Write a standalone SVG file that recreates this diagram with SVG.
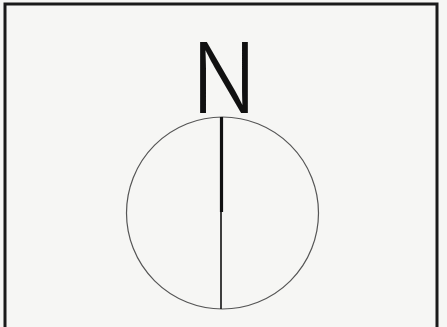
<svg xmlns="http://www.w3.org/2000/svg" width="447" height="327" viewBox="0 0 447 327">
<style>
.frame{fill:#f6f6f4;stroke:#1a1a1a;stroke-width:3}
.ring{fill:none;stroke:#555;stroke-width:1.2}
.needle{stroke:#111;stroke-linecap:butt}
.label{font-family:"Inter","Liberation Sans",sans-serif;font-weight:300;font-size:98px;fill:#111;text-anchor:middle}
</style>
<rect width="447" height="327" fill="#f6f6f4"/>
<g id="frame"><rect class="frame" x="5" y="4" width="432" height="330"/></g>
<g id="north-label"><text class="label" x="224" y="113" transform="translate(224 0) scale(0.86 1) translate(-224 0)">N</text></g>
<g id="compass"><circle class="ring" cx="222.5" cy="213" r="96"/></g>
<g id="connectors">
<line class="needle" x1="221.5" y1="117" x2="221.5" y2="212" stroke-width="3.2"/>
<line class="needle" x1="221" y1="212" x2="221" y2="309" stroke-width="1.6"/>
</g>
</svg>
